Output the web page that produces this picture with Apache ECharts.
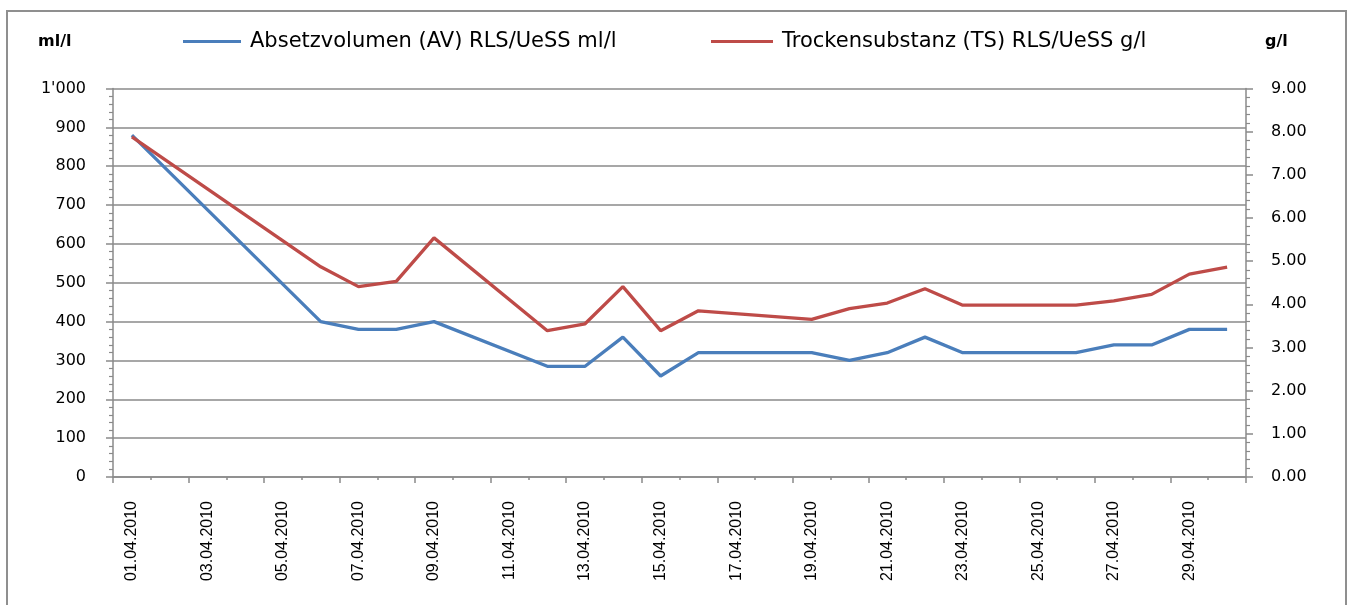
<!DOCTYPE html>
<html>
<head>
<meta charset="utf-8">
<script src="https://cdn.jsdelivr.net/npm/echarts@6/dist/echarts.min.js"></script>
<style>
html,body{margin:0;padding:0;background:#fff;}
#chart{width:1354px;height:605px;}
</style>
</head>
<body>
<div id="chart"></div>
<script>
const categories = ['01.04.2010','02.04.2010','03.04.2010','04.04.2010','05.04.2010','06.04.2010','07.04.2010','08.04.2010','09.04.2010','10.04.2010',
  '11.04.2010','12.04.2010','13.04.2010','14.04.2010','15.04.2010','16.04.2010','17.04.2010','18.04.2010','19.04.2010','20.04.2010',
  '21.04.2010','22.04.2010','23.04.2010','24.04.2010','25.04.2010','26.04.2010','27.04.2010','28.04.2010','29.04.2010','30.04.2010'];
const avValues = [880, null, null, null, null, 400, 380, 380, 400, null, null, 285, 285, 360, 260, 320, null, null, 320, 300,
  320, 360, 320, 320, 320, 320, 340, 340, 380, 380];
const tsValues = [7.88, null, null, null, null, 4.87, 4.41, 4.53, 5.54, null, null, 3.39, 3.55, 4.41, 3.39, 3.85, null, null, 3.65, 3.9,
  4.03, 4.36, 3.98, 3.98, 3.98, 3.98, 4.08, 4.23, 4.7, 4.86];
const nameAV = 'Absetzvolumen (AV) RLS/UeSS ml/l';
const nameTS = 'Trockensubstanz (TS) RLS/UeSS g/l';
const unitLeft = 'ml/l';
const unitRight = 'g/l';

const grey = '#8a8a8a';
const chart = echarts.init(document.getElementById('chart'), null, {renderer:'canvas'});
chart.setOption({
  animation:false,
  backgroundColor:'#fff',
  graphic:[{type:'rect', shape:{x:7, y:11, width:1339, height:610}, style:{fill:'none', stroke:'#8f8f8f', lineWidth:2}, silent:true, z:-1}],
  title:[
    {text:unitLeft, left:38, top:34, padding:0, textStyle:{fontFamily:'DejaVu Sans', fontWeight:'bold', fontSize:16, color:'#000'}},
    {text:unitRight, left:1265, top:34, padding:0, textStyle:{fontFamily:'DejaVu Sans', fontWeight:'bold', fontSize:16, color:'#000'}}
  ],
  legend:[
    {data:[nameAV], left:183, top:31, padding:0, icon:'rect', itemWidth:58, itemHeight:3,
     textStyle:{fontFamily:'DejaVu Sans', fontSize:21, color:'#000', padding:[0,0,0,4]}},
    {data:[nameTS], left:711, top:31, padding:0, icon:'rect', itemWidth:62, itemHeight:3,
     textStyle:{fontFamily:'DejaVu Sans', fontSize:21, color:'#000', padding:[0,0,0,4]}}
  ],
  grid:{left:113, right:108, top:88.5, bottom:128, containLabel:false},
  xAxis:[
    {type:'category', data:categories, boundaryGap:true, position:'bottom',
     axisLine:{show:true, lineStyle:{color:grey, width:1.5}},
     axisTick:{show:true, interval:1, length:6, lineStyle:{color:grey, width:1.5}},
     axisLabel:{interval:1, rotate:90, margin:24, fontFamily:'Liberation Sans', fontSize:16, color:'#000'},
     splitLine:{show:false}},
    {type:'category', data:categories, boundaryGap:true, position:'bottom',
     axisLine:{show:false}, axisTick:{show:true, interval:0, length:3, lineStyle:{color:grey, width:1.5}},
     axisLabel:{show:false}, splitLine:{show:false}}
  ],
  yAxis:[
    {type:'value', min:0, max:1000, interval:100, position:'left',
     axisLine:{show:true, lineStyle:{color:grey, width:1.5}},
     axisTick:{show:true, length:7, lineStyle:{color:grey, width:1.5}},
     minorTick:{show:true, splitNumber:5, length:4, lineStyle:{color:grey, width:1.2}},
     splitLine:{show:true, lineStyle:{color:grey, width:1.6}},
     axisLabel:{margin:27, fontFamily:'DejaVu Sans', fontSize:16, color:'#000',
       formatter:v => String(v).replace(/\B(?=(\d{3})+(?!\d))/g, "'")}},
    {type:'value', min:0, max:9, interval:1, position:'right',
     axisLine:{show:true, lineStyle:{color:grey, width:1.5}},
     axisTick:{show:true, length:7, lineStyle:{color:grey, width:1.5}},
     minorTick:{show:true, splitNumber:5, length:4, lineStyle:{color:grey, width:1.2}},
     splitLine:{show:false},
     axisLabel:{margin:25, fontFamily:'DejaVu Sans', fontSize:16, color:'#000',
       formatter:v => v.toFixed(2)}}
  ],
  series:[
    {name:nameAV, type:'line', xAxisIndex:0, yAxisIndex:0, data:avValues, connectNulls:true,
     showSymbol:false, symbol:'none', color:'#4a7ebb', lineStyle:{color:'#4a7ebb', width:3.3}, z:3},
    {name:nameTS, type:'line', xAxisIndex:0, yAxisIndex:1, data:tsValues, connectNulls:true,
     showSymbol:false, symbol:'none', color:'#be4b48', lineStyle:{color:'#be4b48', width:3.3}, z:3}
  ]
});
</script>
</body>
</html>
